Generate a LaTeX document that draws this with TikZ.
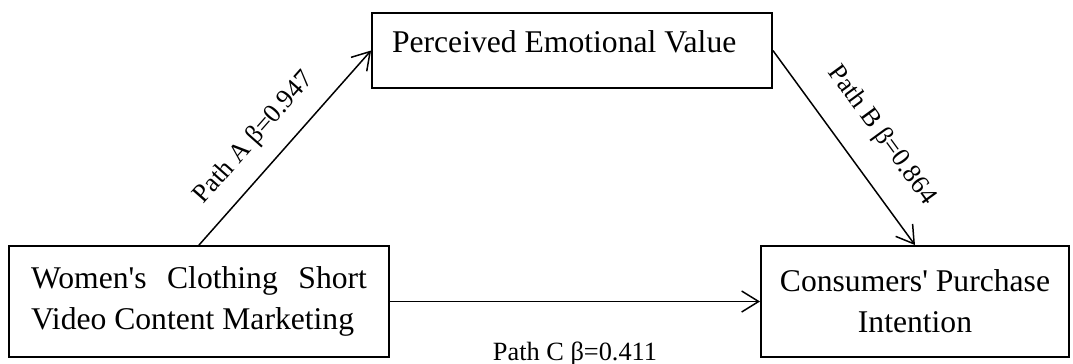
\documentclass[tikz,border=0pt]{standalone}
\usepackage{fontspec}
\setmainfont{Liberation Serif}
\usetikzlibrary{arrows.meta}

\begin{document}
\begin{tikzpicture}[x=0.02cm, y=-0.02cm, line width=0.85pt,
    varbox/.style={draw, line width=1.1pt, font=\fontsize{18}{23.2}\selectfont},
    pathlbl/.style={font=\fontsize{15}{18}\selectfont, inner xsep=0pt},
    arr/.style={-{Straight Barb[length=0.34cm,width=0.42cm]}}]
  \useasboundingbox (0,0) rectangle (1073,363);
  % Variable boxes (independent, mediator, dependent)
  \node[varbox, text width=6.72cm, align=justify, inner xsep=0.44cm, minimum height=2.22cm] (ctm) at (199,301.5)
    {Women\textquotesingle s Clothing Short Video Content Marketing};
  \node[varbox, text width=7.2cm, align=flush left, inner xsep=0.4cm, minimum height=1.5cm, text depth=0.34cm] (pev) at (572,50.5)
    {Perceived Emotional Value};
  \node[varbox, minimum width=6.16cm, minimum height=2.22cm, align=center] (cpi) at (915,301.5)
    {Consumers\textquotesingle{} Purchase\\Intention};
  % Paths with coefficients
  \draw[arr] (ctm.north) -- node[pathlbl, sloped, anchor=south, pos=0.45, inner ysep=0.34cm] {Path A β=0.947} (pev.west);
  \draw[arr] (pev.east) -- node[pathlbl, sloped, anchor=south, pos=0.55, inner ysep=0.5cm] {Path B β=0.864} (cpi.north);
  \draw[arr] (ctm.east) -- node[pathlbl, anchor=north, inner ysep=0.8cm] {Path C β=0.411} (cpi.west);
\end{tikzpicture}
\end{document}
